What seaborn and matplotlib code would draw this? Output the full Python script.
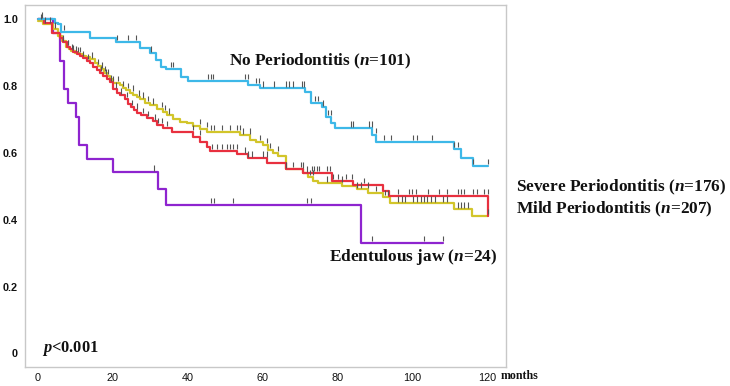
import numpy as np
import pandas as pd
import matplotlib
matplotlib.use("Agg")
import matplotlib.pyplot as plt
import seaborn as sns

# step curves: survival holds from t[i] until t[i+1]
blue_t = [0, 4.6, 5.5, 6.2, 13.9, 21.0, 27.2, 29.9, 31.6, 33.0, 34.3, 38.3, 40.1, 56.1, 59.2,
          71.2, 73.0, 75.9, 77.0, 78.1, 79.2, 89.2, 90.1, 111.0, 113.0, 116.0, 120.0]
blue_s = [1.0, 0.99, 0.985, 0.963, 0.943, 0.933, 0.913, 0.898, 0.878, 0.858, 0.851, 0.828, 0.816, 0.803, 0.793,
          0.783, 0.750, 0.737, 0.708, 0.689, 0.674, 0.654, 0.634, 0.612, 0.584, 0.562, 0.562]

red_t = [0, 1.7, 3.8, 5.9, 6.7, 7.7, 8.6, 9.4, 10.5, 11.3, 12.1, 13.1, 13.9, 14.7, 15.8, 16.6, 17.4,
         18.5, 19.3, 20.1, 21.1, 21.9, 23.3, 24.1, 24.9, 25.7, 26.5, 27.5, 29.1, 30.7, 31.8, 33.5,
         35.8, 41.5, 43.3, 45.2, 46.0, 53.2, 56.1, 61.1, 66.1, 70.8, 78.4, 84.0, 92.1, 93.7, 120.0]
red_s = [1.0, 0.99, 0.96, 0.943, 0.931, 0.918, 0.91, 0.903, 0.896, 0.89, 0.885, 0.876, 0.868, 0.858, 0.848, 0.84, 0.83,
         0.82, 0.811, 0.79, 0.78, 0.773, 0.763, 0.748, 0.738, 0.728, 0.72, 0.714, 0.706, 0.695, 0.684, 0.675,
         0.664, 0.648, 0.634, 0.618, 0.607, 0.596, 0.584, 0.571, 0.553, 0.54, 0.516, 0.504, 0.487, 0.472, 0.412]

yel_t = [0, 1.5, 4.1, 5.5, 6.5, 7.5, 8.3, 9.0, 10.0, 11.0, 12.0, 13.0, 14.0, 15.3, 16.1, 16.9, 17.7,
         18.5, 19.3, 20.1, 21.9, 22.7, 23.5, 24.6, 25.5, 26.4, 27.3, 28.6, 29.9, 31.8, 33.4, 34.5, 36.1,
         37.9, 39.8, 41.4, 43.3, 45.2, 54.0, 56.6, 58.2, 60.1, 61.4, 62.7, 64.2, 66.1, 70.8, 72.2, 73.5,
         74.8, 81.1, 85.1, 88.2, 92.2, 93.9, 111.0, 115.9, 120.0]
yel_s = [0.995, 0.985, 0.97, 0.95, 0.935, 0.918, 0.91, 0.905, 0.9, 0.896, 0.891, 0.886, 0.88, 0.87, 0.86, 0.85, 0.84,
         0.83, 0.82, 0.81, 0.803, 0.795, 0.788, 0.781, 0.774, 0.767, 0.761, 0.75, 0.743, 0.733, 0.723, 0.713, 0.703,
         0.693, 0.689, 0.681, 0.673, 0.664, 0.653, 0.64, 0.633, 0.624, 0.609, 0.60, 0.59, 0.551, 0.539, 0.529, 0.517,
         0.509, 0.501, 0.491, 0.481, 0.469, 0.449, 0.431, 0.412, 0.412]

pur_t = [0, 4.0, 5.9, 7.1, 8.2, 10.2, 11.1, 13.2, 20.2, 32.0, 34.1, 86.1, 108.0]
pur_s = [1.0, 0.958, 0.875, 0.792, 0.75, 0.708, 0.625, 0.583, 0.542, 0.492, 0.444, 0.331, 0.331]

# censored times
blue_c = [1.1, 7.0, 21.1, 24.1, 26.2, 30.2, 35.5, 36.1, 45.4, 46.1, 46.8, 55.3, 56.0, 58.2, 58.9, 60.2,
          63.0, 66.2, 67.1, 68.0, 70.4, 71.1, 73.9, 74.8, 76.2, 77.3, 78.1, 83.5, 84.2, 88.4, 89.1, 90.1,
          92.4, 94.2, 100.2, 101.1, 105.2, 111.1, 112.2, 116.2, 120.0]
red_c = [6.8, 8.2, 9.5, 10.8, 12.2, 13.5, 17.0, 18.2, 19.6, 20.8, 22.2, 23.7, 25.1, 26.4, 28.2, 29.5, 31.3,
         32.2, 33.1, 34.4, 41.5, 43.3, 46.4, 47.7, 49.1, 50.4, 51.3, 52.2, 53.2, 55.3, 56.2, 57.1, 60.2, 61.1,
         68.2, 70.1, 73.1, 73.8, 74.4, 75.1, 77.2, 77.9, 78.8, 80.2, 82.2, 83.7, 87.0, 96.1, 99.1, 99.9, 100.9,
         104.0, 107.1, 109.1, 112.2, 112.9, 113.7, 116.2, 117.1, 119.1, 120.0]
yel_c = [0.9, 1.9, 3.3, 4.6, 8.1, 9.1, 10.2, 11.3, 14.4, 16.2, 17.1, 17.9, 18.8, 20.2, 21.5, 22.8, 24.2, 25.5,
         26.9, 28.2, 29.5, 30.8, 33.1, 33.9, 35.1, 43.3, 45.1, 46.1, 47.0, 49.1, 51.3, 53.2, 54.0, 54.8, 56.6,
         59.3, 61.1, 62.0, 64.2, 66.2, 70.8, 71.7, 72.6, 73.5, 77.1, 81.1, 85.2, 86.1, 88.2, 90.2, 92.6, 93.5,
         96.1, 97.1, 98.0, 100.2, 101.1, 102.1, 103.0, 103.9, 104.8, 106.0, 108.2, 109.1, 112.2, 112.9, 113.7,
         114.8, 120.0]
pur_c = [31.0, 46.2, 47.1, 52.2, 71.9, 72.8, 89.1, 103.1, 108.0]

colors = {"No Periodontitis": "#3DB8E8", "Severe Periodontitis": "#E8303F",
          "Mild Periodontitis": "#D2C52A", "Edentulous jaw": "#8E24CF"}
curves = {"No Periodontitis": (blue_t, blue_s, blue_c),
          "Severe Periodontitis": (red_t, red_s, red_c),
          "Mild Periodontitis": (yel_t, yel_s, yel_c),
          "Edentulous jaw": (pur_t, pur_s, pur_c)}

df = pd.concat([pd.DataFrame({"month": t, "surv": s, "group": g}) for g, (t, s, c) in curves.items()])

sns.set_style("white")
plt.rcParams['font.family'] = ['Liberation Sans', 'DejaVu Sans']
plt.rcParams['mathtext.fontset'] = 'custom'
plt.rcParams['mathtext.it'] = 'Liberation Serif:italic:bold'
plt.rcParams['mathtext.rm'] = 'Liberation Serif:bold'
plt.rcParams['mathtext.bf'] = 'Liberation Serif:bold'

fig = plt.figure(figsize=(7.3, 3.86), dpi=100)
ax = fig.add_axes([25/730, 1-366.7/386, (506-25)/730, (366.7-5)/386])

# purple first so it sits under the others
for g in ["Edentulous jaw", "Mild Periodontitis", "Severe Periodontitis", "No Periodontitis"]:
    sns.lineplot(data=df[df.group == g], x="month", y="surv", color=colors[g], estimator=None,
                 drawstyle="steps-post", lw=1.6, ax=ax, legend=False)

# censor marks, sitting just above the curve
for g, (t, s, c) in curves.items():
    t = np.array(t); s = np.array(s); c = np.array(c)
    idx = np.clip(np.searchsorted(t, c, side='left') - 1, 0, None)
    lev = s[idx]
    ax.vlines(c, lev + 0.005, lev + 0.021, color="#555555", lw=0.8)

ax.set_xlim(-3.4, 124.9)
ax.set_ylim(-0.04, 1.043)
ax.set_xlabel("")
ax.set_ylabel("")
ax.set_xticks([0, 20, 40, 60, 80, 100, 120])
ax.set_xticks([10, 30, 50, 70, 90, 110], minor=True)
ax.set_yticks([0, 0.2, 0.4, 0.6, 0.8, 1.0])
ax.set_yticklabels(["0", "0.2", "0.4", "0.6", "0.8", "1.0"])
ax.set_yticks([0.1, 0.3, 0.5, 0.7, 0.9], minor=True)
ax.tick_params(which='major', length=0, labelsize=7.8, colors='#111111')
ax.tick_params(axis='x', which='major', pad=4.5)
ax.tick_params(axis='y', which='major', pad=5)
ax.tick_params(which='minor', length=3, direction='in', color='#bbbbbb', width=0.8)
for lbl in ax.get_yticklabels():
    lbl.set_fontweight('bold')
for sp in ax.spines.values():
    sp.set_color('#c8c8c8')
    sp.set_linewidth(1.0)

serif = dict(family='Liberation Serif', weight='bold', color='#111111')
ax.text(51.1, 0.873, "No Periodontitis ($n$=101)", ha='left', va='center', fontsize=12.4, **serif)
ax.text(77.8, 0.287, "Edentulous jaw ($n$=24)", ha='left', va='center', fontsize=12.4, **serif)
ax.text(127.7, 0.496, "Severe Periodontitis ($n$=176)", ha='left', va='center', fontsize=12.4, clip_on=False, **serif)
ax.text(127.7, 0.431, "Mild Periodontitis ($n$=207)", ha='left', va='center', fontsize=12.4, clip_on=False, **serif)
ax.text(1.1, 0.015, "$p$<0.001", ha='left', va='center', fontsize=11.8, **serif)
ax.text(123.5, -0.068, "months", ha='left', va='center', fontsize=8.6, clip_on=False, **serif)

fig.savefig("out.png", dpi=100)
